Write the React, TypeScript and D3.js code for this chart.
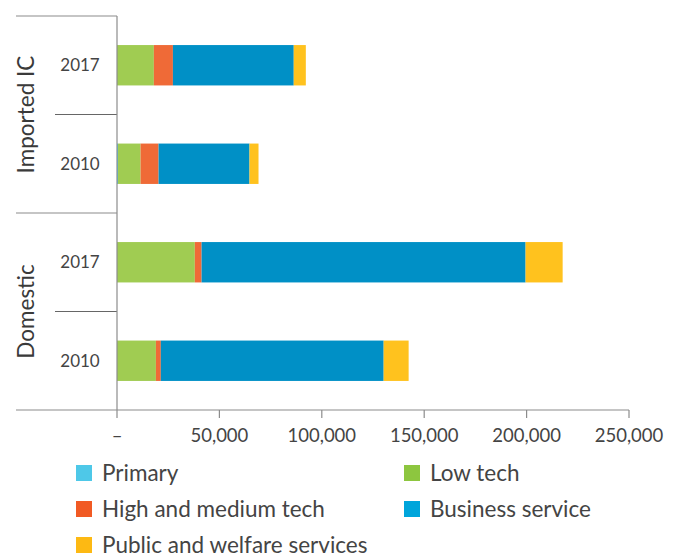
import * as d3 from 'd3';
import * as React from 'react';

const categories = ['Primary', 'Low tech', 'High and medium tech', 'Business service', 'Public and welfare services'];
const rowLabels = ['2017', '2010', '2017', '2010'];
const groupLabels = ['Imported IC', 'Domestic'];
const primary = [0, 500, 0, 0];
const lowTech = [18000, 11000, 38000, 19000];
const highMedTech = [9300, 8800, 3300, 2400];
const businessService = [59000, 44400, 158200, 108800];
const publicWelfare = [5900, 4400, 18100, 12200];
const tickValues = [0, 50000, 100000, 150000, 200000, 250000];

const barColors = ['#4ec8e8', '#a0cc52', '#ef6a37', '#0090c6', '#ffc21e'];
const legendColors = ['#4ec8e8', '#8dc63f', '#f15a24', '#00a5db', '#fdb913'];

const width = 674;
const height = 557;
const axisLeft = 117;
const top = 16;
const bottom = 410;
const labelColor = '#444';
const lineColor = '#8c8c8c';
const font = 'Lato, "Open Sans", sans-serif';

export default function App() {
    const series = [primary, lowTech, highMedTech, businessService, publicWelfare];
    const rows = rowLabels.map((label, i) => {
        const row: any = {key: i, label};
        categories.forEach((c, j) => { row[c] = series[j][i]; });
        return row;
    });
    const stacked = d3.stack<any>().keys(categories)(rows);

    const x = d3.scaleLinear().domain([0, 250000]).range([axisLeft, 629]);
    const y = d3.scaleBand<number>()
        .domain(rows.map((r) => r.key))
        .range([top, bottom])
        .paddingInner(0.59)
        .paddingOuter(0.295);
    const step = y.step();

    const fmt = (v: number) => (v === 0 ? '–' : d3.format(',')(v));

    return (
        <svg width={width} height={height} style={{position: 'absolute', left: 0, top: 0}} fontFamily={font}>
            <rect width={width} height={height} fill='#fff' />
            {stacked.map((s, j) => (
                <g key={s.key} fill={barColors[j]}>
                    {s.map((d, i) => (
                        <rect key={i} x={x(d[0])} y={y(i)} width={Math.max(0, x(d[1]) - x(d[0]))} height={y.bandwidth()} />
                    ))}
                </g>
            ))}

            {/* row / group dividers */}
            <g stroke={lineColor} strokeWidth={1.2}>
                <line x1={16} x2={axisLeft} y1={top} y2={top} />
                <line x1={16} x2={axisLeft} y1={top + 2 * step} y2={top + 2 * step} />
                <line x1={55} x2={axisLeft} y1={top + step} y2={top + step} stroke='#666' />
                <line x1={55} x2={axisLeft} y1={top + 3 * step} y2={top + 3 * step} stroke='#666' />
                <line x1={axisLeft} x2={axisLeft} y1={top} y2={bottom} />
                <line x1={16} x2={x(250000)} y1={bottom} y2={bottom} />
            </g>

            {rows.map((r, i) => (
                <text key={i} x={80} y={y(i)! + y.bandwidth() / 2} dy='0.35em' textAnchor='middle'
                    fontSize={17} fill={labelColor}>{r.label}</text>
            ))}
            {groupLabels.map((g, k) => {
                const cy = top + step * (2 * k + 1);
                return (
                    <text key={g} transform={`translate(26,${cy}) rotate(-90)`} dy='0.35em' textAnchor='middle'
                        fontSize={22.5} fill='#3a3a3a'>{g}</text>
                );
            })}

            <g className='x-axis'>
                {tickValues.map((t) => (
                    <g key={t} transform={`translate(${x(t)},${bottom})`}>
                        <line stroke={lineColor} strokeWidth={1.2} y1={0} y2={8} />
                        <text textAnchor='middle' y={32} fontSize={18.5} fill={labelColor}>{fmt(t)}</text>
                    </g>
                ))}
            </g>

            <g className='legend'>
                {categories.map((c, j) => {
                    const col = j % 2;
                    const row = Math.floor(j / 2);
                    const lx = col === 0 ? 76 : 404;
                    const ly = 473 + row * 36;
                    return (
                        <g key={c} transform={`translate(${lx},${ly})`}>
                            <rect x={0} y={-8} width={16} height={16} fill={legendColors[j]} />
                            <text x={26} dy='0.35em' fontSize={22.5} fill={labelColor}>{c}</text>
                        </g>
                    );
                })}
            </g>
        </svg>
    );
}
